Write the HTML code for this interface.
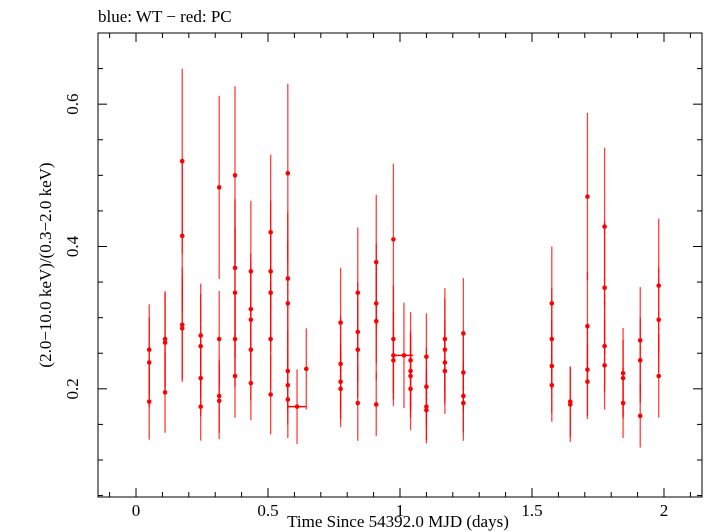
<!DOCTYPE html>
<html><head><meta charset="utf-8"><style>
body{margin:0;background:#fff;width:705px;height:532px;overflow:hidden}
svg{display:block;font-family:"Liberation Serif",serif}
</style></head><body>
<svg id="chart" width="705" height="532" viewBox="0 0 705 532">
<text x="98" y="22" font-size="17">blue: WT − red: PC</text>
<rect x="98" y="33" width="604" height="464" fill="none" stroke="#000" stroke-width="1"/>
<g id="ticks"></g>
<g id="marks"></g>
<text x="398" y="527" font-size="17" text-anchor="middle">Time Since 54392.0 MJD (days)</text>
<text transform="translate(51,265) rotate(-90)" font-size="17" text-anchor="middle">(2.0−10.0 keV)/(0.3−2.0 keV)</text>
</svg>
<script>
const times=[0.05,0.05,0.05,0.11,0.11,0.11,0.175,0.175,0.175,0.175,0.245,0.245,0.245,0.245,0.315,0.315,0.315,0.315,0.375,0.375,0.375,0.375,0.375,0.435,0.435,0.435,0.435,0.435,0.51,0.51,0.51,0.51,0.51,0.575,0.575,0.575,0.575,0.575,0.575,0.645,0.775,0.775,0.775,0.775,0.84,0.84,0.84,0.84,0.91,0.91,0.91,0.91,0.975,0.975,0.975,0.975,1.04,1.04,1.04,1.04,1.1,1.1,1.1,1.1,1.17,1.17,1.17,1.17,1.24,1.24,1.24,1.24,1.575,1.575,1.575,1.575,1.645,1.645,1.71,1.71,1.71,1.71,1.775,1.775,1.775,1.775,1.845,1.845,1.845,1.91,1.91,1.91,1.98,1.98,1.98];
const ratios=[0.255,0.237,0.182,0.27,0.265,0.195,0.52,0.415,0.29,0.285,0.275,0.26,0.215,0.175,0.483,0.27,0.19,0.183,0.5,0.37,0.335,0.27,0.218,0.365,0.312,0.297,0.255,0.208,0.42,0.365,0.335,0.27,0.192,0.503,0.355,0.32,0.225,0.205,0.185,0.228,0.293,0.235,0.21,0.2,0.335,0.28,0.255,0.18,0.378,0.32,0.295,0.178,0.41,0.27,0.247,0.24,0.24,0.225,0.218,0.2,0.245,0.203,0.175,0.17,0.27,0.255,0.237,0.225,0.278,0.223,0.19,0.18,0.32,0.27,0.232,0.205,0.182,0.178,0.47,0.288,0.227,0.21,0.428,0.342,0.26,0.233,0.222,0.215,0.18,0.268,0.24,0.162,0.345,0.297,0.218];
const wideTimes=[0.61,1.015];
const wideRatios=[0.175,0.247];
const wideHalf=[0.035,0.035];
const xTicks=[0,0.5,1,1.5,2];
const xTickLabels=["0","0.5","1","1.5","2"];
const yTicks=[0.2,0.4,0.6];
const yTickLabels=["0.2","0.4","0.6"];
const X0=98,X1=702,Y0=497,Y1=33,xmin=-0.144,xmax=2.144,ymin=0.048,ymax=0.7;
const xs=t=>X0+(t-xmin)/(xmax-xmin)*(X1-X0);
const ys=v=>Y0-(v-ymin)/(ymax-ymin)*(Y0-Y1);
const NS="http://www.w3.org/2000/svg";
function mk(tag,attrs,parent){const e=document.createElementNS(NS,tag);for(const k in attrs)e.setAttribute(k,attrs[k]);parent.appendChild(e);return e;}
const tg=document.getElementById('ticks'),mg=document.getElementById('marks');
for(let v=-0.1;v<=2.15;v+=0.1){const x=xs(v);if(x<X0||x>X1)continue;const maj=Math.abs(v*2-Math.round(v*2))<1e-6;const L=maj?9:5;
const a=mk('line',{x1:x,x2:x,y1:Y0,y2:Y0-L,stroke:'#000'},tg);
const b=mk('line',{x1:x,x2:x,y1:Y1,y2:Y1+L,stroke:'#000'},tg);}
for(let v=0.05;v<=0.7;v+=0.05){const y=ys(v);if(y<Y1||y>Y0)continue;const maj=Math.abs(v*5-Math.round(v*5))<1e-6;const L=maj?9:5;
const a=mk('line',{x1:X0,x2:X0+L,y1:y,y2:y,stroke:'#000'},tg);
const b=mk('line',{x1:X1,x2:X1-L,y1:y,y2:y,stroke:'#000'},tg);}
xTicks.forEach((v,i)=>{const t=mk('text',{x:xs(v),y:Y0+19,'font-size':17,'text-anchor':'middle'},tg);t.textContent=xTickLabels[i];
});
yTicks.forEach((v,i)=>{const t=mk('text',{transform:`translate(${X0-20},${ys(v)}) rotate(-90)`,'font-size':17,'text-anchor':'middle'},tg);t.textContent=yTickLabels[i];
});
times.forEach((t,i)=>{const v=ratios[i],e=v*0.25+(i%3)*0.004;const x=xs(t);
const l=mk('line',{x1:x,x2:x,y1:ys(v+e),y2:ys(v-e),stroke:'#f00','stroke-width':1.3,'stroke-opacity':0.75},mg);

const c=mk('circle',{cx:x,cy:ys(v),r:2.3,fill:'#f00'},mg);
});
wideTimes.forEach((t,i)=>{const v=wideRatios[i],e=v*0.3;const x=xs(t),y=ys(v);
const l=mk('line',{x1:x,x2:x,y1:ys(v+e),y2:ys(v-e),stroke:'#f00','stroke-width':1.3,'stroke-opacity':0.75},mg);

const h=mk('line',{x1:xs(t-wideHalf[i]),x2:xs(t+wideHalf[i]),y1:y,y2:y,stroke:'#f00','stroke-width':1.5},mg);

const c=mk('circle',{cx:x,cy:y,r:2.3,fill:'#f00'},mg);
});
</script>
</body></html>
